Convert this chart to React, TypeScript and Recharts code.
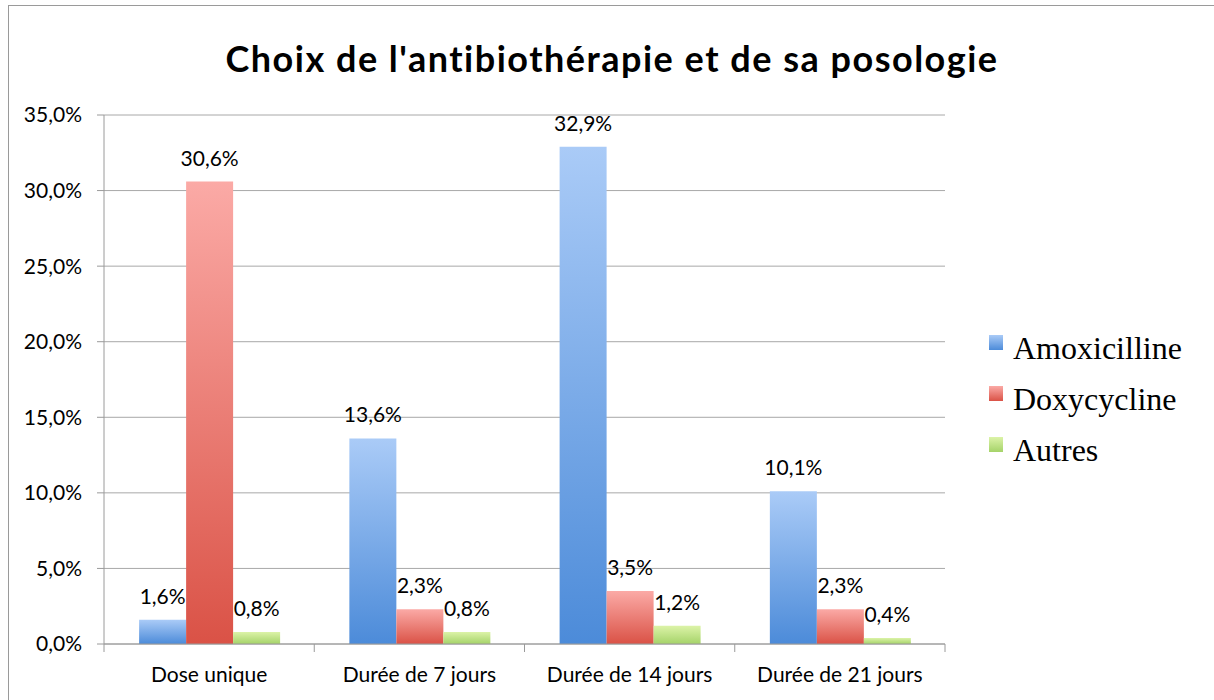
import { Bar, BarChart, CartesianGrid, LabelList, XAxis, YAxis } from "recharts";

const categories = ["Dose unique", "Durée de 7 jours", "Durée de 14 jours", "Durée de 21 jours"];
const amoxicilline = [1.6, 13.6, 32.9, 10.1];
const doxycycline = [30.6, 2.3, 3.5, 2.3];
const autres = [0.8, 0.8, 1.2, 0.4];
const yTicks = [0, 5, 10, 15, 20, 25, 30, 35];
const boundaryTicks = [0, 1, 2, 3, 4];

const series = [
  { key: "amoxicilline", name: "Amoxicilline", top: "#aacbf7", bottom: "#4c8bd9" },
  { key: "doxycycline", name: "Doxycycline", top: "#fbaaa6", bottom: "#da5246" },
  { key: "autres", name: "Autres", top: "#dcf3a8", bottom: "#a5d369" },
];

const data = categories.map((name, i) => ({
  name,
  idx: i + 0.5,
  amoxicilline: amoxicilline[i],
  doxycycline: doxycycline[i],
  autres: autres[i],
}));

const pct = (v: number) => `${Number(v).toFixed(1).replace(".", ",")}%`;

const tickFont = "Lato, 'Open Sans', sans-serif";

export default function App() {
  return (
    <div style={{ position: "absolute", left: 0, top: 0, width: 1214, height: 700, background: "#fff", overflow: "hidden" }}>
      <div
        style={{
          position: "absolute",
          left: 8,
          top: 5,
          width: 1220,
          height: 720,
          borderLeft: "1px solid #9a9a9a",
          borderTop: "1px solid #9a9a9a",
        }}
      />
      <div
        style={{
          position: "absolute",
          left: 0,
          top: 36,
          width: 1224,
          textAlign: "center",
          fontFamily: tickFont,
          fontWeight: 700,
          fontSize: 36,
          letterSpacing: 1.5,
          color: "#000",
        }}
      >
        Choix de l'antibiothérapie et de sa posologie
      </div>
      <div style={{ position: "absolute", left: 0, top: 0 }}>
        <BarChart
          width={1214}
          height={700}
          data={data}
          margin={{ top: 115, right: 269, bottom: 0, left: 24 }}
          barCategoryGap="16.7%"
          barGap={0}
        >
          <defs>
            {series.map((s) => (
              <linearGradient key={s.key} id={`grad-${s.key}`} x1="0" y1="0" x2="0" y2="1">
                <stop offset="0%" stopColor={s.top} />
                <stop offset="100%" stopColor={s.bottom} />
              </linearGradient>
            ))}
          </defs>
          <CartesianGrid vertical={false} stroke="#a8a8a8" xAxisId="cat" />
          <XAxis
            xAxisId="bounds"
            dataKey="idx"
            type="number"
            domain={[0, 4]}
            ticks={boundaryTicks}
            tickFormatter={() => ""}
            tickSize={8}
            height={8}
            stroke="#9a9a9a"
          />
          <XAxis
            xAxisId="cat"
            dataKey="name"
            tickLine={false}
            axisLine={false}
            tickSize={0}
            tickMargin={15}
            height={48}
            tick={{ fill: "#000", fontSize: 21, fontFamily: tickFont }}
            interval={0}
          />
          <YAxis
            domain={[0, 35]}
            ticks={yTicks}
            tickFormatter={pct}
            width={80}
            tickSize={7}
            tickMargin={15}
            stroke="#9a9a9a"
            tick={{ fill: "#000", fontSize: 21, fontFamily: tickFont }}
          />
          {series.map((s) => (
            <Bar
              key={s.key}
              xAxisId="cat"
              dataKey={s.key}
              name={s.name}
              fill={`url(#grad-${s.key})`}
              isAnimationActive={false}
            >
              <LabelList
                dataKey={s.key}
                position="top"
                offset={16}
                formatter={(v: any) => pct(v)}
                style={{ fill: "#000", fontSize: 21, fontFamily: tickFont }}
              />
            </Bar>
          ))}
        </BarChart>
      </div>
      {series.map((s, i) => (
        <div key={s.key} style={{ position: "absolute", left: 989, top: 335 + i * 51, height: 30 }}>
          <div
            style={{
              position: "absolute",
              left: 0,
              top: 0,
              width: 14,
              height: 15,
              background: `linear-gradient(${s.top}, ${s.bottom})`,
            }}
          />
          <div
            style={{
              position: "absolute",
              left: 24,
              top: -5,
              whiteSpace: "nowrap",
              fontFamily: "'Liberation Serif', 'DejaVu Serif', serif",
              fontSize: 32,
              lineHeight: "36px",
              color: "#000",
            }}
          >
            {s.name}
          </div>
        </div>
      ))}
    </div>
  );
}
